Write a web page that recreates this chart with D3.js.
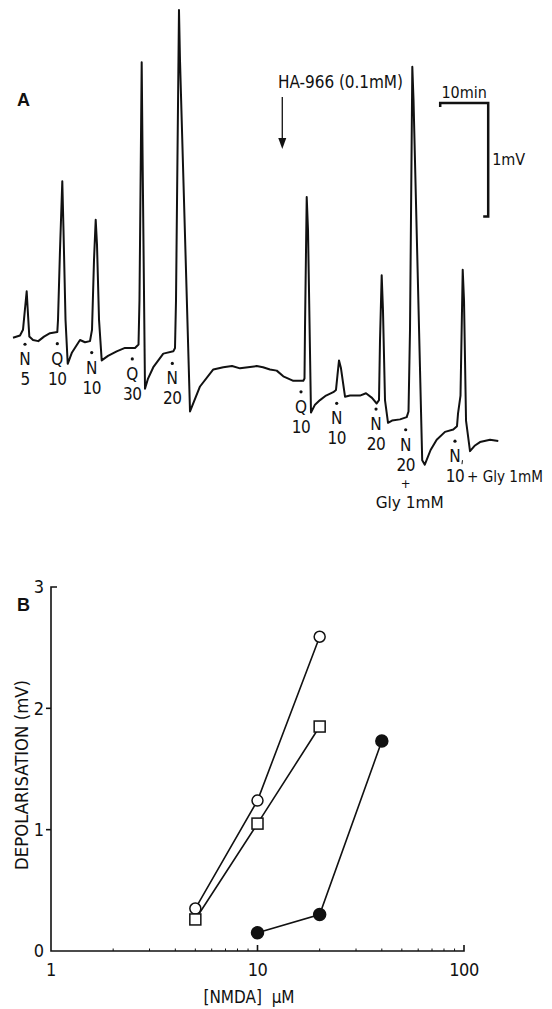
<!DOCTYPE html>
<html>
<head>
<meta charset="utf-8">
<script src="https://d3js.org/d3.v7.min.js"></script>
<style>
  body { margin: 0; background: #fff; }
  svg text { font-family: "Liberation Sans Narrow", "DejaVu Sans Condensed", sans-serif; fill: #111; }
</style>
</head>
<body>
<script>
// ---- panel A: recorded trace (time in min, depolarisation in mV) ----
var traceT = [0, 1.46, 2.08, 2.85, 3.13, 3.40, 4.17, 5.27, 6.46, 7.71, 9.23, 9.38, 9.79, 10.27, 10.52, 10.94, 11.40,
  12.29, 13.96, 15.00, 16.04, 16.46, 16.88, 17.23, 17.50, 17.92, 18.48, 19.79, 21.60, 23.33, 25.42, 26.15, 26.35,
  26.81, 26.98, 27.50, 28.13, 29.23, 31.31, 33.40, 33.75, 33.96, 34.58, 34.79, 36.88, 38.96, 41.73, 43.81, 45.63,
  47.29, 48.96, 50.77, 52.08, 53.54, 54.94, 56.31, 58.40, 60.48, 60.73, 60.83, 61.19, 61.46, 62.08, 62.92, 63.96,
  65.21, 66.73, 67.29, 67.60, 67.92, 68.33, 69.17, 70.21, 72.29, 73.54, 74.79, 75.77, 76.25, 76.46, 76.81, 77.08,
  77.50, 78.13, 78.96, 80.63, 82.02, 82.40, 82.71, 83.19, 83.44, 85.25, 85.79, 87.00, 88.27, 90.00, 91.73, 92.50,
  92.71, 93.23, 93.69, 93.96, 94.38, 95.21, 96.25, 97.29, 99.38, 101.10];
var traceV = [0.02, 0.04, 0.09, 0.43, 0.22, 0.03, 0.00, -0.01, 0.03, 0.06, 0.07, 0.18, 0.79, 1.40, 0.97, 0.18, -0.21,
  -0.11, 0.00, -0.02, -0.01, 0.09, 0.71, 1.06, 0.84, 0.18, -0.18, -0.14, -0.10, -0.07, -0.07, -0.04, 0.35,
  2.45, 1.68, -0.43, -0.34, -0.24, -0.12, -0.10, -0.07, 0.35, 2.91, 2.47, -0.63, -0.41, -0.26, -0.24, -0.23,
  -0.25, -0.24, -0.23, -0.24, -0.26, -0.27, -0.32, -0.36, -0.36, -0.34, 0.09, 1.26, 0.97, -0.64, -0.57, -0.53,
  -0.49, -0.46, -0.44, -0.31, -0.18, -0.25, -0.50, -0.49, -0.49, -0.47, -0.51, -0.56, -0.53, 0.00, 0.57, 0.26,
  -0.53, -0.73, -0.71, -0.70, -0.68, -0.63, 0.09, 2.41, 2.12, -1.06, -1.10, -0.97, -0.88, -0.81, -0.79, -0.76,
  -0.65, -0.49, 0.62, 0.35, -0.71, -0.98, -0.93, -0.90, -0.88, -0.89];

// drug applications: time (min), agonist, dose (uM)
var doseTimes = [2.5, 9.23, 16.4, 24.85, 33.19, 60.0, 67.44, 75.63, 81.81, 92.08];
var doseDrug  = ["N", "Q", "N", "Q", "N", "Q", "N", "N", "N", "N"];
var doseConc  = ["5", "10", "10", "30", "20", "10", "10", "20", "20", "10"];
var haTime = 56.1;

// ---- panel B: dose-response ----
var nmdaOpen   = [5, 10, 20];
var depolOpen  = [0.35, 1.24, 2.59];
var nmdaSquare = [5, 10, 20];
var depolSquare = [0.26, 1.05, 1.85];
var nmdaFilled = [10, 20, 40];
var depolFilled = [0.15, 0.30, 1.73];
var yTicks = [0, 1, 2, 3];
var xTicks = [1, 10, 100];

var width = 552, height = 1009;
var svg = d3.select("body").append("svg")
  .attr("width", width)
  .attr("height", height);

// ======= Panel A =======
var mv = 113.4;
var x = d3.scaleLinear().domain([0, 102]).range([13, 13 + 102 * 4.8]);
var y = d3.scaleLinear().domain([-1.2, 3.0]).range([340 + 1.2 * mv, 340 - 3.0 * mv]);

var trace = traceT.map(function(t, i) { return [t, traceV[i]]; });

svg.append("text").attr("x", 17).attr("y", 106)
  .style("font-family", "Liberation Sans, Arial, sans-serif")
  .attr("font-weight", "bold").attr("font-size", 18).text("A");

svg.append("path")
  .datum(trace)
  .attr("fill", "none")
  .attr("stroke", "#111")
  .attr("stroke-width", 2)
  .attr("stroke-linejoin", "round")
  .attr("d", d3.line().x(function(d) { return x(d[0]); }).y(function(d) { return y(d[1]); }));

var bis = d3.bisector(function(d) { return d[0]; }).left;
function valueAt(t) {
  var i = bis(trace, t);
  if (i <= 0) return trace[0][1];
  var a = trace[i - 1], b = trace[i];
  return a[1] + (b[1] - a[1]) * (t - a[0]) / (b[0] - a[0]);
}

var labs = svg.append("g").selectAll("g")
  .data(doseTimes)
  .enter().append("g")
  .attr("transform", function(t) {
    return "translate(" + x(t) + "," + (y(valueAt(t - 0.8)) + 11) + ")";
  });
labs.append("circle").attr("r", 1.6).attr("fill", "#111");
labs.append("text").attr("y", 15).attr("dy", "0.35em").attr("text-anchor", "middle")
  .attr("font-size", 17).text(function(d, i) { return doseDrug[i]; });
labs.append("text").attr("y", 35).attr("dy", "0.35em").attr("text-anchor", "middle")
  .attr("font-size", 17).attr("letter-spacing", -0.5).text(function(d, i) { return doseConc[i]; });

// glycine annotations
var g9 = labs.filter(function(d, i) { return i === 8; });
g9.append("text").attr("y", 54).attr("dy", "0.35em").attr("text-anchor", "middle")
  .attr("font-size", 13).text("+");
g9.append("text").attr("x", 4).attr("y", 73).attr("dy", "0.35em").attr("text-anchor", "middle")
  .attr("font-size", 16).attr("textLength", 68).attr("lengthAdjust", "spacingAndGlyphs").text("Gly 1mM");
var g10 = labs.filter(function(d, i) { return i === 9; });
g10.append("text").attr("x", 12).attr("y", 35).attr("dy", "0.35em")
  .attr("font-size", 16).attr("textLength", 76).attr("lengthAdjust", "spacingAndGlyphs").text("+ Gly 1mM");
// small prime mark after the N
g10.append("path").attr("d", "M7.5,19L7,23").attr("stroke", "#111").attr("stroke-width", 1);

// HA-966 arrow
svg.append("text").attr("x", 278).attr("y", 88).attr("font-size", 17)
  .attr("textLength", 125).attr("lengthAdjust", "spacing").text("HA-966 (0.1mM)");
svg.append("line").attr("x1", x(haTime)).attr("x2", x(haTime)).attr("y1", 97).attr("y2", 142)
  .attr("stroke", "#111").attr("stroke-width", 1.3);
svg.append("path")
  .attr("d", "M" + (x(haTime) - 4) + ",138L" + (x(haTime) + 4) + ",138L" + x(haTime) + ",149Z")
  .attr("fill", "#111");

// scale bar: 10 min x 1 mV
var sbT = 89, sbV = 2.09;
svg.append("path")
  .attr("d", "M" + x(sbT) + "," + (y(sbV) + 4) + "V" + y(sbV) + "H" + x(sbT + 10) +
    "V" + y(sbV - 1) + "H" + (x(sbT + 10) - 5))
  .attr("fill", "none").attr("stroke", "#111").attr("stroke-width", 2.5);
svg.append("text").attr("x", (x(sbT) + x(sbT + 10)) / 2).attr("y", y(sbV) - 5)
  .attr("text-anchor", "middle").attr("font-size", 16).text("10min");
svg.append("text").attr("x", x(sbT + 10) + 4).attr("y", y(sbV - 0.5)).attr("dy", "0.35em")
  .attr("font-size", 16).text("1mV");

// ======= Panel B =======
var bx = d3.scaleLog().domain([1, 100]).range([51, 464]);
var by = d3.scaleLinear().domain([0, 3]).range([951, 587]);

svg.append("text").attr("x", 17).attr("y", 611)
  .style("font-family", "Liberation Sans, Arial, sans-serif")
  .attr("font-weight", "bold").attr("font-size", 18).text("B");

var axis = svg.append("g").attr("stroke", "#111").attr("fill", "none").attr("stroke-width", 1.6);
axis.append("path").attr("d", "M" + (bx(1) + 6) + "," + by(3) + "H" + bx(1) + "V" + by(0) + "H" + bx(100) + "V" + (by(0) - 6));
axis.selectAll(".yt").data([1, 2]).enter().append("line")
  .attr("x1", bx(1) - 5).attr("x2", bx(1)).attr("y1", function(d) { return by(d); }).attr("y2", function(d) { return by(d); });
axis.append("line").attr("x1", bx(10)).attr("x2", bx(10)).attr("y1", by(0)).attr("y2", by(0) - 6);
var minor = [];
[1, 10].forEach(function(dec) { for (var k = 2; k <= 9; k++) minor.push(dec * k); });
axis.selectAll(".mt").data(minor).enter().append("line")
  .attr("stroke-width", 1)
  .attr("x1", function(d) { return bx(d); }).attr("x2", function(d) { return bx(d); })
  .attr("y1", by(0)).attr("y2", by(0) - 2.5);

svg.selectAll(".ylab").data(yTicks).enter().append("text")
  .attr("x", bx(1) - 7).attr("y", function(d) { return by(d); }).attr("dy", "0.35em")
  .attr("text-anchor", "end").attr("font-size", 18).text(function(d) { return d; });
svg.selectAll(".xlab").data(xTicks).enter().append("text")
  .attr("x", function(d) { return bx(d); }).attr("y", 970).attr("dy", "0.35em")
  .attr("text-anchor", "middle").attr("font-size", 18).attr("letter-spacing", -0.5).text(function(d) { return d; });

svg.append("text").attr("transform", "translate(22,775) rotate(-90)")
  .attr("text-anchor", "middle").attr("dy", "0.35em").attr("font-size", 17)
  .attr("textLength", 190).attr("lengthAdjust", "spacingAndGlyphs")
  .text("DEPOLARISATION (mV)");
svg.append("text").attr("x", 249).attr("y", 997).attr("dy", "0.35em")
  .attr("text-anchor", "middle").attr("font-size", 17).attr("xml:space", "preserve")
  .text("[NMDA]  \u03bcM");

var line = d3.line().x(function(d) { return bx(d[0]); }).y(function(d) { return by(d[1]); });
var series = [
  { xs: nmdaOpen, ys: depolOpen, shape: "circle", fill: "#fff" },
  { xs: nmdaSquare, ys: depolSquare, shape: "square", fill: "#fff" },
  { xs: nmdaFilled, ys: depolFilled, shape: "circle", fill: "#111" }
];
series.forEach(function(s) {
  var pts = s.xs.map(function(v, i) { return [v, s.ys[i]]; });
  svg.append("path").datum(pts).attr("d", line)
    .attr("fill", "none").attr("stroke", "#111").attr("stroke-width", 1.6);
  var m = svg.append("g").selectAll("m").data(pts).enter();
  if (s.shape === "circle") {
    m.append("circle")
      .attr("cx", function(d) { return bx(d[0]); }).attr("cy", function(d) { return by(d[1]); })
      .attr("r", s.fill === "#fff" ? 5.5 : 6)
      .attr("fill", s.fill).attr("stroke", "#111").attr("stroke-width", 1.5);
  } else {
    m.append("rect")
      .attr("x", function(d) { return bx(d[0]) - 5.5; }).attr("y", function(d) { return by(d[1]) - 5.5; })
      .attr("width", 11).attr("height", 11)
      .attr("fill", s.fill).attr("stroke", "#111").attr("stroke-width", 1.5);
  }
});
</script>
</body>
</html>
